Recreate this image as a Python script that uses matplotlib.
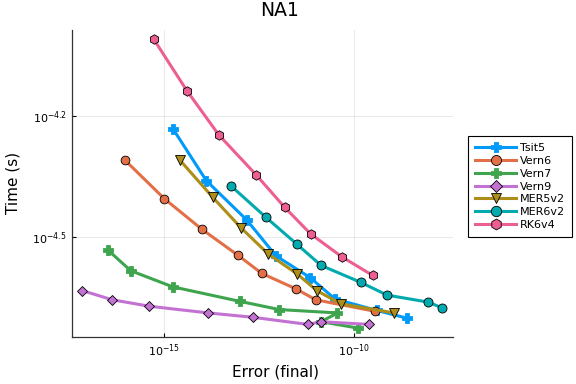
"""
Work-precision diagram for the NA1 problem.

Final error against run time for several Runge-Kutta methods,
drawn on log-log axes in the style of a Plots.jl figure.
"""

import matplotlib
matplotlib.use("Agg")
import matplotlib.pyplot as plt
from matplotlib.ticker import NullLocator

# values
methods = ["Tsit5", "Vern6", "Vern7", "Vern9", "MER5v2", "MER6v2", "RK6v4"]

tsit5_err = [1.79e-15, 1.31e-14, 1.50e-13, 8.83e-13, 6.89e-12, 3.12e-11, 3.87e-10, 2.41e-9]
tsit5_time = [5.85e-5, 4.36e-5, 3.48e-5, 2.83e-5, 2.50e-5, 2.21e-5, 2.07e-5, 1.98e-5]

vern6_err = [9.48e-17, 1.04e-15, 9.93e-15, 8.89e-14, 3.72e-13, 3.01e-12, 9.70e-12, 3.43e-10]
vern6_time = [4.91e-5, 3.93e-5, 3.30e-5, 2.84e-5, 2.56e-5, 2.34e-5, 2.20e-5, 2.06e-5]

vern7_err = [3.40e-17, 1.36e-16, 1.72e-15, 1.00e-13, 1.08e-12, 3.62e-11, 1.34e-11, 1.25e-10]
vern7_time = [2.93e-5, 2.60e-5, 2.37e-5, 2.18e-5, 2.08e-5, 2.04e-5, 1.94e-5, 1.87e-5]

vern9_err = [7.19e-18, 4.48e-17, 4.19e-16, 1.48e-14, 2.16e-13, 6.00e-12, 1.32e-11, 2.43e-10]
vern9_time = [2.32e-5, 2.20e-5, 2.12e-5, 2.04e-5, 1.99e-5, 1.91e-5, 1.94e-5, 1.91e-5]

mer5_err = [2.68e-15, 1.94e-14, 1.05e-13, 5.55e-13, 3.20e-12, 1.03e-11, 4.40e-11, 1.10e-9]
mer5_time = [4.90e-5, 3.96e-5, 3.33e-5, 2.86e-5, 2.55e-5, 2.32e-5, 2.15e-5, 2.04e-5]

mer6_err = [5.82e-14, 4.83e-13, 3.08e-12, 1.34e-11, 1.50e-10, 7.21e-10, 8.83e-9, 2.00e-8]
mer6_time = [4.23e-5, 3.53e-5, 3.03e-5, 2.68e-5, 2.43e-5, 2.26e-5, 2.17e-5, 2.10e-5]

rk6_err = [5.47e-16, 4.08e-15, 2.82e-14, 2.64e-13, 1.49e-12, 7.18e-12, 4.84e-11, 3.04e-10]
rk6_time = [9.82e-5, 7.30e-5, 5.66e-5, 4.51e-5, 3.74e-5, 3.21e-5, 2.81e-5, 2.53e-5]

x_ticks = [1e-15, 1e-10]
x_tick_labels = [r"$10^{-15}$", r"$10^{-10}$"]
y_ticks = [10 ** -4.2, 10 ** -4.5]
y_tick_labels = [r"$10^{-4.2}$", r"$10^{-4.5}$"]

errors = [tsit5_err, vern6_err, vern7_err, vern9_err, mer5_err, mer6_err, rk6_err]
times = [tsit5_time, vern6_time, vern7_time, vern9_time, mer5_time, mer6_time, rk6_time]

# Plots.jl default palette and the markers used per method
colors = ["#009afa", "#e36f47", "#3ea44e", "#c371d2", "#ac8e18", "#00aaae", "#ed5e93"]
markers = ["P", "o", "P", "D", "v", "o", "h"]
sizes = [6.5, 6.3, 6.5, 5.2, 6.8, 6.5, 6.8]

W, H = 576, 384
fig = plt.figure(figsize=(W / 100, H / 100), dpi=100)
ax = fig.add_axes([72 / W, 1 - 336.7 / H, (453 - 72) / W, (336.7 - 30) / H])

for name, xs, ys, c, m, s in zip(methods, errors, times, colors, markers, sizes):
    edge = c if m == "P" else "black"
    ax.plot(xs, ys, color=c, lw=2.2, marker=m, ms=s, mfc=c,
            mec=edge, mew=0.6, label=name)

ax.set_xscale("log")
ax.set_yscale("log")
ax.set_xlim(10 ** -17.406, 10 ** -7.411)
ax.set_ylim(10 ** -4.7496, 10 ** -3.985)

ax.set_xticks(x_ticks)
ax.set_xticklabels(x_tick_labels)
ax.set_yticks(y_ticks)
ax.set_yticklabels(y_tick_labels)
ax.xaxis.set_minor_locator(NullLocator())
ax.yaxis.set_minor_locator(NullLocator())
ax.tick_params(direction="in", length=3, width=0.8, labelsize=8, pad=4)

ax.grid(True, color="black", alpha=0.1, lw=0.6)
ax.spines["top"].set_visible(False)
ax.spines["right"].set_visible(False)
for side in ("left", "bottom"):
    ax.spines[side].set_linewidth(0.9)
    ax.spines[side].set_color("#333333")

fig.text(280 / W, 1 - 11 / H, "NA1", ha="center", va="center", fontsize=13.5)
fig.text(275 / W, 1 - 372 / H, "Error (final)", ha="center", va="center", fontsize=11)
fig.text(13 / W, 1 - 183 / H, "Time (s)", ha="center", va="center",
         rotation=90, fontsize=11)

# legend outside the plot, to the right
leg = ax.legend(loc="upper left", bbox_to_anchor=(468 / W, 1 - 136 / H),
                bbox_transform=fig.transFigure, borderaxespad=0, fontsize=8,
                fancybox=False, framealpha=1, edgecolor="black", markerscale=1.15,
                handlelength=3.7, handletextpad=0.3, labelspacing=0.25,
                borderpad=0.65)
leg.get_frame().set_linewidth(0.8)

fig.savefig("out.png", dpi=100)
